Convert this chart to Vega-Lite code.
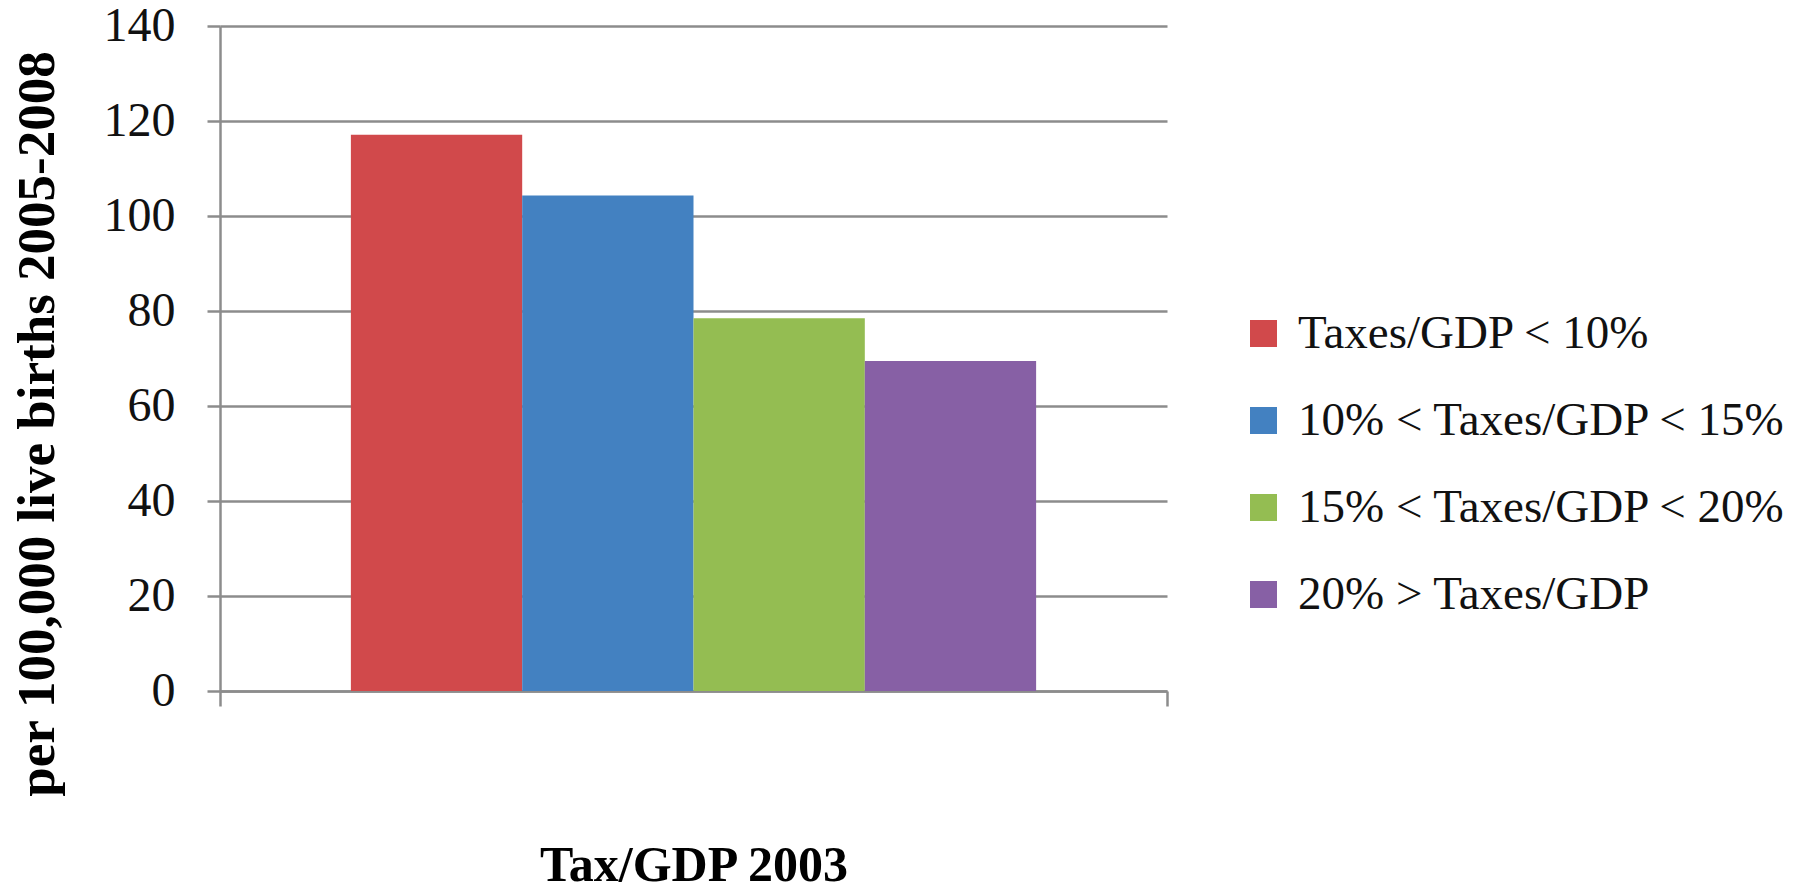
{
  "$schema": "https://vega.github.io/schema/vega-lite/v6.json",
  "autosize": {"type": "none"},
  "padding": {"left": 220, "top": 26, "right": 634, "bottom": 198},
  "width": 947,
  "height": 665,
  "background": "white",
  "data": {
    "values": [
      {"period": "2003", "group": "Taxes/GDP < 10%", "value": 117.1},
      {"period": "2003", "group": "10% < Taxes/GDP < 15%", "value": 104.3},
      {"period": "2003", "group": "15% < Taxes/GDP < 20%", "value": 78.5},
      {"period": "2003", "group": "20% > Taxes/GDP", "value": 69.5}
    ]
  },
  "config": {
    "view": {"stroke": null},
    "font": "Liberation Serif"
  },
  "mark": {"type": "bar", "opacity": 1},
  "encoding": {
    "x": {
      "field": "period",
      "type": "nominal",
      "scale": {"paddingInner": 0, "paddingOuter": 0},
      "axis": {
        "title": "Tax/GDP 2003",
        "labels": false,
        "ticks": true,
        "tickBand": "extent",
        "tickSize": 15,
        "tickWidth": 2.5,
        "tickColor": "#8c8c8c",
        "domainColor": "#8c8c8c",
        "domainWidth": 2.5,
        "grid": false,
        "titleFont": "Liberation Serif",
        "titleFontWeight": "bold",
        "titleFontSize": 50,
        "titleColor": "#000000",
        "titleBaseline": "alphabetic",
        "titleAlign": "center",
        "titleAnchor": "middle",
        "titleX": 473.5,
        "titleY": 189
      }
    },
    "xOffset": {
      "field": "group",
      "type": "nominal",
      "sort": ["Taxes/GDP < 10%", "10% < Taxes/GDP < 15%", "15% < Taxes/GDP < 20%", "20% > Taxes/GDP"],
      "scale": {"paddingInner": 0, "paddingOuter": 0.764}
    },
    "y": {
      "field": "value",
      "type": "quantitative",
      "scale": {"domain": [0, 140], "nice": false},
      "axis": {
        "title": "per 100,000 live births 2005-2008",
        "values": [0, 20, 40, 60, 80, 100, 120, 140],
        "grid": true,
        "gridColor": "#8c8c8c",
        "gridWidth": 2.5,
        "gridOpacity": 1,
        "domainColor": "#8c8c8c",
        "domainWidth": 2.5,
        "tickColor": "#8c8c8c",
        "tickWidth": 2.5,
        "tickSize": 13,
        "labelPadding": 32,
        "labelFont": "Liberation Serif",
        "labelFontSize": 48,
        "labelColor": "#111111",
        "labelBaseline": "middle",
        "titleFont": "Liberation Serif",
        "titleFontWeight": "bold",
        "titleFontSize": 53,
        "titleColor": "#000000",
        "titleAngle": 270,
        "titleAlign": "center",
        "titleBaseline": "middle",
        "titleX": -183,
        "titleY": 397.5
      }
    },
    "color": {
      "field": "group",
      "type": "nominal",
      "scale": {
        "domain": ["Taxes/GDP < 10%", "10% < Taxes/GDP < 15%", "15% < Taxes/GDP < 20%", "20% > Taxes/GDP"],
        "range": ["#d1494b", "#4381c1", "#94bd52", "#8760a5"]
      },
      "legend": {
        "title": null,
        "orient": "none",
        "legendX": 1020,
        "legendY": 284,
        "padding": 0,
        "symbolType": "square",
        "symbolSize": 729,
        "symbolStrokeWidth": 0,
        "symbolOpacity": 1,
        "labelFont": "Liberation Serif",
        "labelFontSize": 47,
        "labelColor": "#111111",
        "labelOffset": 11,
        "labelLimit": 0,
        "rowPadding": 39
      }
    }
  }
}
